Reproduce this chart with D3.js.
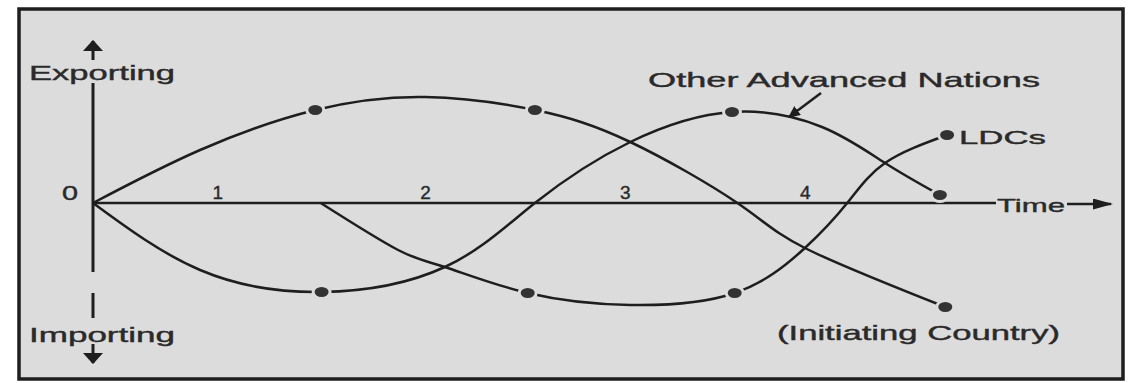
<!DOCTYPE html>
<html>
<head>
<meta charset="utf-8">
<script src="https://cdn.jsdelivr.net/npm/d3@7"></script>
<style>
  body { margin: 0; background: #fff; }
  text { font-family: "Liberation Sans", Arial, sans-serif; fill: #2a2a2a; stroke: #2a2a2a; stroke-width: 0.4px; }
</style>
</head>
<body>
<div id="chart"></div>
<script>
// time (arbitrary units) and net trade position (+ exporting / - importing)
const initTime   = [0, 11.9, 24.7, 36.9, 49.1, 59.7, 71.6, 79.1, 94.7];
const initValue  = [0, 5.3, 9.3, 10.6, 9.3, 6.1, 0, -4.5, -10.4];
const initDots   = [2, 4, 8];

const otherTime  = [0, 11.9, 25.4, 39.1, 49.1, 59.7, 71, 81, 88, 94.1];
const otherValue = [0, -6.7, -8.9, -6.4, 0, 6.1, 9.1, 7.6, 4, 0.8];
const otherDots  = [2, 6, 9];

const ldcTime    = [25.3, 33.9, 39.1, 48.3, 59.7, 71.3, 79.1, 83.8, 88, 94.9];
const ldcValue   = [0, -4.7, -6.4, -9, -10.2, -9, -4.5, 0, 4, 6.8];
const ldcDots    = [3, 5, 9];

const stageTicks  = [13.8, 36.9, 59.1, 79.1];
const stageLabels = ["1", "2", "3", "4"];

const W = 1133, H = 383;
const ink = "#1e1e1e", bg = "#dcdcdc";

const svg = d3.select("#chart")
    .append("svg")
        .attr("width", W)
        .attr("height", H);

svg.append("rect")
    .attr("x", 19).attr("y", 9)
    .attr("width", 1104).attr("height", 370)
    .attr("fill", bg)
    .attr("stroke", ink)
    .attr("stroke-width", 3.5);

const x = d3.scaleLinear().domain([0, 100]).range([93, 993]);
const y = d3.scaleLinear().domain([-10, 10]).range([303, 103]);

// arrowheads
const defs = svg.append("defs");
function addHead(id, len, wide) {
    defs.append("marker")
        .attr("id", id)
        .attr("viewBox", "0 0 10 10")
        .attr("preserveAspectRatio", "none")
        .attr("refX", 9).attr("refY", 5)
        .attr("markerWidth", len).attr("markerHeight", wide)
        .attr("markerUnits", "userSpaceOnUse")
        .attr("orient", "auto")
        .append("path")
            .attr("d", "M0,0L10,5L0,10z")
            .attr("fill", ink);
}
addHead("head", 12, 11);
addHead("vhead", 11, 20);
addHead("timehead", 20, 11);

// horizontal time axis line
svg.append("line")
    .attr("x1", x(0)).attr("x2", 996)
    .attr("y1", y(0)).attr("y2", y(0))
    .attr("stroke", ink).attr("stroke-width", 2.5);

// vertical axis pieces
svg.append("line")
    .attr("x1", x(0)).attr("x2", x(0))
    .attr("y1", 83).attr("y2", 272)
    .attr("stroke", ink).attr("stroke-width", 3);
svg.append("line")
    .attr("x1", x(0)).attr("x2", x(0))
    .attr("y1", 293).attr("y2", 318)
    .attr("stroke", ink).attr("stroke-width", 3);

// up arrow above "Exporting"
svg.append("line")
    .attr("x1", x(0)).attr("x2", x(0))
    .attr("y1", 60).attr("y2", 41)
    .attr("stroke", ink).attr("stroke-width", 3)
    .attr("marker-end", "url(#vhead)");
// down arrow below "Importing"
svg.append("line")
    .attr("x1", x(0)).attr("x2", x(0))
    .attr("y1", 344).attr("y2", 363)
    .attr("stroke", ink).attr("stroke-width", 3)
    .attr("marker-end", "url(#vhead)");
// time arrow
svg.append("line")
    .attr("x1", 1067).attr("x2", 1111)
    .attr("y1", y(0) + 1).attr("y2", y(0) + 1)
    .attr("stroke", ink).attr("stroke-width", 2.5)
    .attr("marker-end", "url(#timehead)");
// pointer to "Other Advanced Nations"
svg.append("line")
    .attr("x1", 821).attr("x2", 789)
    .attr("y1", 93).attr("y2", 117)
    .attr("stroke", ink).attr("stroke-width", 2.5)
    .attr("marker-end", "url(#head)");

// stage labels
const axis = d3.axisTop(x)
    .tickValues(stageTicks)
    .tickFormat((d, i) => stageLabels[i])
    .tickSize(0)
    .tickPadding(4);
const gAxis = svg.append("g")
    .attr("transform", "translate(0," + y(0) + ")")
    .call(axis);
gAxis.select(".domain").remove();
gAxis.selectAll("text")
    .style("font-family", "'Liberation Sans', Arial, sans-serif")
    .style("font-size", "19px")
    .style("fill", "#2a2a2a")
    .style("stroke", "#2a2a2a")
    .style("stroke-width", "0.4px");

const line = d3.line()
    .x(d => x(d[0]))
    .y(d => y(d[1]))
    .curve(d3.curveNatural);

const series = [
    {t: initTime, v: initValue, dots: initDots},
    {t: otherTime, v: otherValue, dots: otherDots},
    {t: ldcTime, v: ldcValue, dots: ldcDots}
];

series.forEach(s => {
    const pts = s.t.map((t, i) => [t, s.v[i]]);
    svg.append("path")
        .attr("d", line(pts))
        .attr("fill", "none")
        .attr("stroke", ink)
        .attr("stroke-width", 2.5);
});

series.forEach(s => {
    svg.selectAll(null)
        .data(s.dots.map(i => [s.t[i], s.v[i]]))
        .enter()
        .append("ellipse")
            .attr("cx", d => x(d[0]))
            .attr("cy", d => y(d[1]))
            .attr("rx", 8.5).attr("ry", 6.5)
            .attr("fill", "#333")
            .attr("stroke", bg)
            .attr("stroke-width", 3);
});

// text labels
const labels = [
    {text: "Exporting", x: 29, y: 80, len: 146, size: 21},
    {text: "Importing", x: 29, y: 342, len: 146, size: 21},
    {text: "0", x: 62, y: 200, len: 16, size: 20},
    {text: "Other Advanced Nations", x: 648, y: 87, len: 392, size: 21},
    {text: "LDCs", x: 959, y: 144, len: 87, size: 19},
    {text: "Time", x: 997, y: 212, len: 68, size: 19},
    {text: "(Initiating Country)", x: 777, y: 340, len: 283, size: 21}
];
svg.selectAll("text.lab")
    .data(labels)
    .enter()
    .append("text")
        .attr("class", "lab")
        .attr("x", d => d.x)
        .attr("y", d => d.y)
        .attr("textLength", d => d.len)
        .attr("lengthAdjust", "spacingAndGlyphs")
        .style("font-size", d => d.size + "px")
        .text(d => d.text);
</script>
</body>
</html>
